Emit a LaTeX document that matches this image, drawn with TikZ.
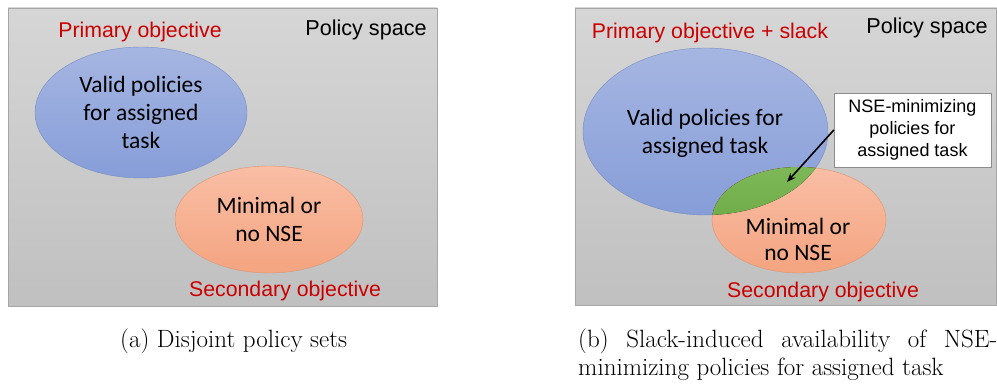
\documentclass[tikz,border=0pt]{standalone}
\usepackage{fontspec}
\usetikzlibrary{shapes.geometric,arrows.meta}
\newfontfamily\calibrifont{Carlito}
\newfontfamily\arialfont{Liberation Sans}
\definecolor{objred}{RGB}{204,0,0}
\definecolor{spacetop}{RGB}{214,214,214}
\definecolor{spacebot}{RGB}{192,192,192}
\definecolor{validtop}{RGB}{166,182,226}
\definecolor{validbot}{RGB}{134,157,216}
\definecolor{nsetop}{RGB}{249,190,165}
\definecolor{nsebot}{RGB}{244,164,128}
\definecolor{overlaptop}{RGB}{126,184,88}
\definecolor{overlapbot}{RGB}{96,160,58}

\begin{document}
\begin{tikzpicture}[x=1pt, y=-1pt,
                    space/.style ={draw=black!35, top color=spacetop, bottom color=spacebot},
                    valid/.style ={ellipse, draw=validbot!90!black, thin, top color=validtop, bottom color=validbot, inner sep=0pt, align=center, font=\calibrifont\fontsize{23.5}{28}\selectfont},
                    nse/.style ={ellipse, draw=nsebot!90!black, thin, top color=nsetop, bottom color=nsebot, inner sep=0pt, align=center, font=\calibrifont\fontsize{23.5}{28}\selectfont},
                    objective/.style ={text=objred, font=\arialfont\fontsize{21.3}{24}\selectfont, inner sep=0pt},
                    spacelabel/.style ={font=\arialfont\fontsize{21.6}{24}\selectfont, inner sep=0pt},
                    caption/.style ={font=\fontsize{25}{28}\selectfont, inner sep=0pt, anchor=north west}]
\useasboundingbox (0,0) rectangle (997,385);

% disjoint sets
\draw[space] (8,8) rectangle (437,306);
\node[valid, minimum width=212pt, minimum height=131pt] (valida) at (141,112.5) {Valid policies\\for assigned\\task};
\node[nse, minimum width=188pt, minimum height=107pt] (nsea) at (269,219.5) {Minimal or\\no NSE};
\node[objective] (primarya) at (140,32) {Primary objective};
\node[spacelabel] (spacea) at (366,30) {Policy space};
\node[objective] (secondarya) at (285,291) {Secondary objective};

% slack-induced overlap
\draw[space] (575,8) rectangle (996.5,305);
\node[valid, minimum width=245pt, minimum height=167pt] (validb) at (705.5,131.5) {};
\node[nse, minimum width=174pt, minimum height=106pt] (nseb) at (799,220) {};
\begin{scope}
  \clip (705.5,131.5) ellipse (122.5 and 83.5);
  \fill[top color=overlaptop, bottom color=overlapbot] (799,220) ellipse (87 and 53);
\end{scope}
\node[align=center, font=\calibrifont\fontsize{23.5}{28}\selectfont] (validtext) at (705,133) {Valid policies for\\assigned task};
\node[align=center, font=\calibrifont\fontsize{23.5}{26}\selectfont] (nsetext) at (798,239) {Minimal or\\no NSE};
\node[objective] (primaryb) at (710,33) {Primary objective + slack};
\node[spacelabel] (spaceb) at (927,28) {Policy space};
\node[objective] (secondaryb) at (823,292) {Secondary objective};
\node[draw=black!45, fill=white, align=center, minimum width=157pt, minimum height=74pt, inner sep=0pt, font=\arialfont\fontsize{18}{22}\selectfont] (minbox) at (912.5,130) {NSE-minimizing\\policies for\\assigned task};
\coordinate (overlap) at (787,182);
\draw[-{Stealth[length=9pt, width=7pt]}, line width=1.6pt] (minbox.west) -- (overlap);

% captions
\node[caption] (capa) at (120,329) {(a) Disjoint policy sets};
\node[caption] (capb) at (578,329) {\parbox{419pt}{(b) Slack-induced availability of NSE-\linebreak minimizing policies for assigned task}};

\end{tikzpicture}
\end{document}
